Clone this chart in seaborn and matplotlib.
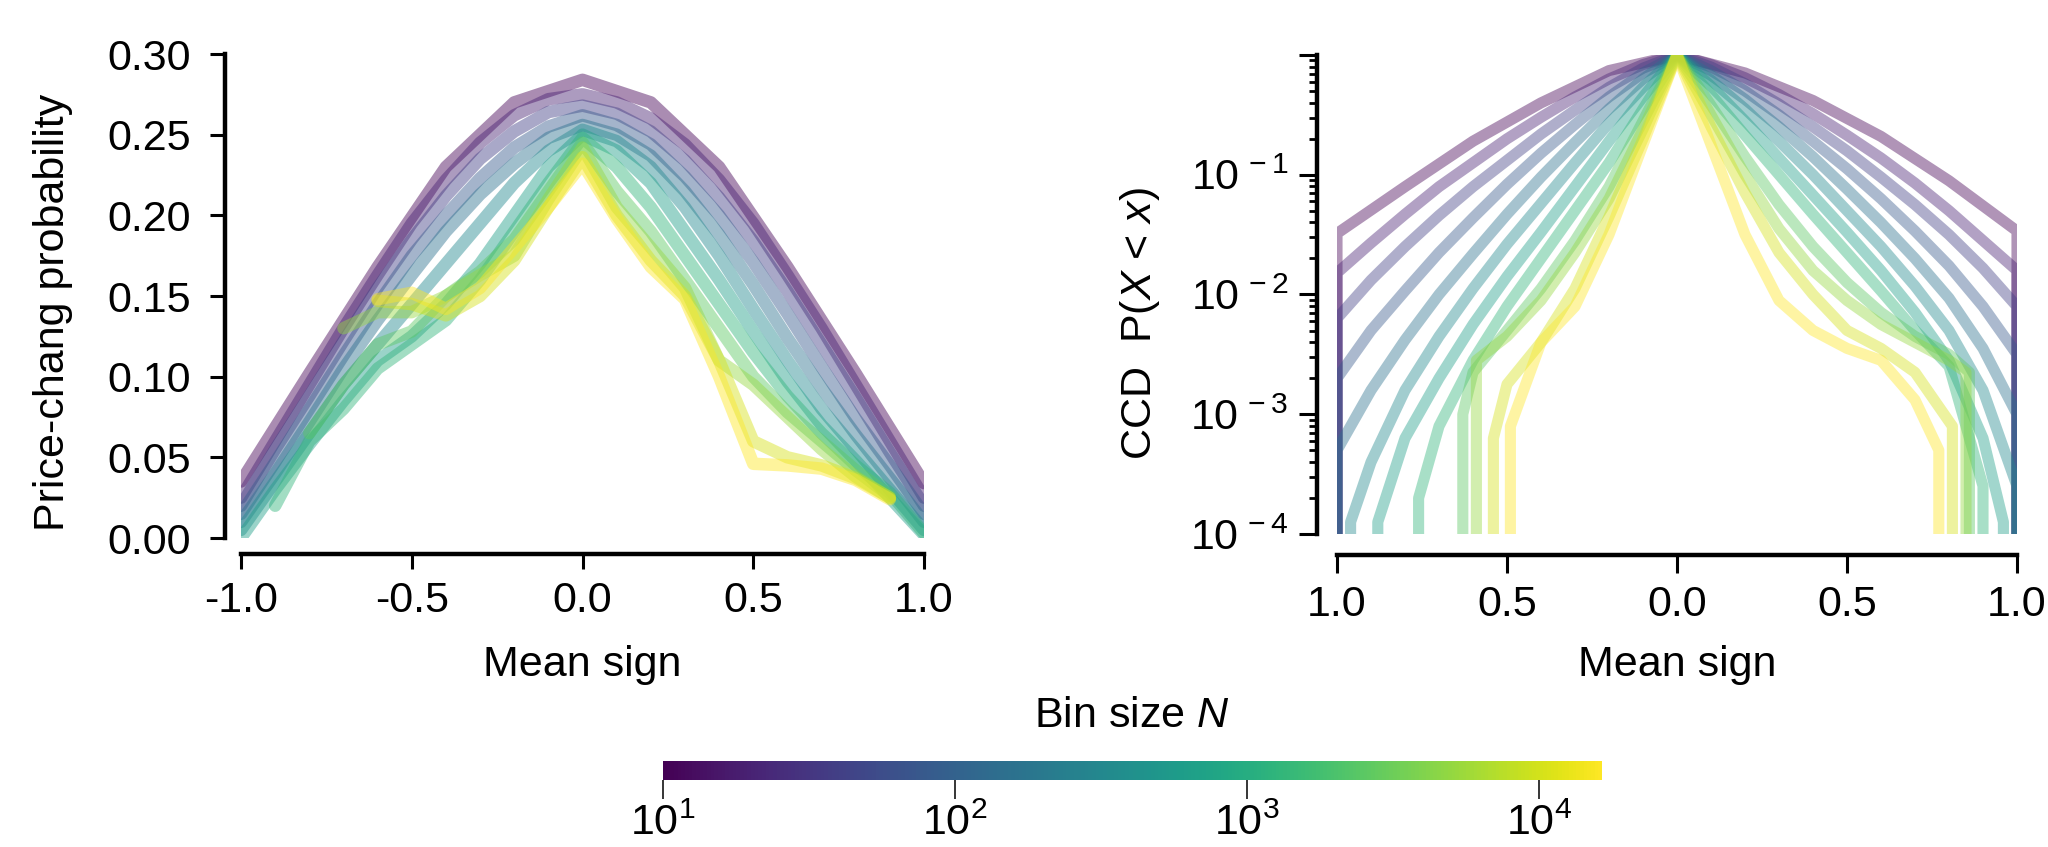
import numpy as np
import pandas as pd
import matplotlib
matplotlib.use("Agg")
import matplotlib.pyplot as plt
import seaborn as sns
from matplotlib.colors import LogNorm
from matplotlib.cm import ScalarMappable
from matplotlib.ticker import FixedLocator, FixedFormatter, NullLocator, LogLocator, NullFormatter

nan = np.nan

# ---------------- data ----------------
BIN_SIZES = [10, 20, 40, 80, 160, 320, 640, 1280, 2560, 5120, 10240, 16384]

# Left panel: price-change probability vs mean sign
PC_GRID = [-1.0, -0.9, -0.8, -0.7, -0.6, -0.5, -0.4, -0.3, -0.2, -0.1, 0.0,
           0.1, 0.2, 0.3, 0.4, 0.5, 0.6, 0.7, 0.8, 0.9, 1.0]
PC_N10 = [0.035, nan, 0.102, nan, 0.168, nan, 0.230, nan, 0.270, nan, 0.284,
          nan, 0.270, nan, 0.230, nan, 0.168, nan, 0.102, nan, 0.034]
PC_N20 = [0.025, 0.060, 0.095, 0.130, 0.163, 0.195, 0.222, 0.245, 0.262, 0.272, 0.275,
          0.270, 0.260, 0.244, 0.222, 0.195, 0.163, 0.130, 0.095, 0.060, 0.025]
PC_N40 = [0.020, 0.055, 0.088, 0.122, 0.155, 0.185, 0.212, 0.235, 0.252, 0.264, 0.268,
          0.263, 0.252, 0.234, 0.211, 0.184, 0.153, 0.120, 0.087, 0.053, 0.020]
PC_N80 = [0.015, 0.047, 0.080, 0.113, 0.145, 0.175, 0.200, 0.223, 0.242, 0.255, 0.262,
          0.256, 0.244, 0.224, 0.200, 0.171, 0.139, 0.106, 0.074, 0.045, 0.015]
PC_N160 = [0.010, 0.040, 0.072, 0.105, 0.135, 0.163, 0.190, 0.213, 0.232, 0.248, 0.256,
           0.250, 0.237, 0.215, 0.188, 0.157, 0.124, 0.093, 0.064, 0.037, 0.010]
PC_N320 = [0.005, 0.035, 0.065, 0.095, 0.120, 0.145, 0.170, 0.195, 0.220, 0.240, 0.253,
           0.246, 0.230, 0.205, 0.175, 0.142, 0.110, 0.080, 0.055, 0.030, 0.005]
PC_N640 = [0.000, 0.030, 0.058, 0.085, 0.110, 0.125, 0.145, 0.170, 0.200, 0.230, 0.250,
           0.240, 0.220, 0.190, 0.160, 0.128, 0.097, 0.070, 0.048, 0.025, 0.002]
PC_N1280 = [nan, 0.020, 0.060, 0.080, 0.105, 0.120, 0.135, 0.160, 0.190, 0.220, 0.248,
            0.230, 0.205, 0.175, 0.145, 0.115, 0.088, 0.065, 0.045, 0.028, 0.003]
PC_N2560 = [nan, nan, 0.065, 0.095, 0.120, 0.128, 0.150, 0.165, 0.185, 0.215, 0.245,
            0.215, 0.190, 0.160, 0.130, 0.100, 0.078, 0.060, 0.042, 0.026, nan]
PC_N5120 = [nan, nan, nan, 0.130, 0.140, 0.140, 0.150, 0.163, 0.175, 0.210, 0.242,
            0.205, 0.180, 0.155, 0.110, 0.095, 0.075, 0.055, 0.038, 0.025, nan]
PC_N10240 = [nan, nan, nan, nan, 0.147, 0.145, 0.138, 0.150, 0.172, 0.205, 0.236,
             0.200, 0.172, 0.150, 0.110, 0.060, 0.050, 0.045, 0.037, 0.025, nan]
PC_N16384 = [nan, nan, nan, nan, 0.148, 0.152, 0.142, 0.155, 0.180, 0.205, 0.232,
             0.198, 0.168, 0.148, 0.100, 0.046, 0.045, 0.043, 0.036, 0.024, nan]
PC_VALUES = [PC_N10, PC_N20, PC_N40, PC_N80, PC_N160, PC_N320, PC_N640,
             PC_N1280, PC_N2560, PC_N5120, PC_N10240, PC_N16384]

# Right panel: CCD (log10 of probability) on |mean sign| grid, each side
CCD_GRID = [0.0, 0.1, 0.2, 0.3, 0.4, 0.5, 0.6, 0.7, 0.8, 0.9, 1.0]
CCD_LEFT_LOG10 = [
    [0, nan, -0.13, nan, -0.40, nan, -0.72, nan, -1.10, nan, -1.49],
    [0, -0.08, -0.20, -0.35, -0.52, -0.70, -0.90, -1.10, -1.33, -1.57, -1.82],
    [0, -0.11, -0.27, -0.46, -0.66, -0.88, -1.10, -1.34, -1.60, -1.88, -2.20],
    [0, -0.15, -0.35, -0.58, -0.82, -1.08, -1.36, -1.65, -1.97, -2.30, -2.70],
    [0, -0.20, -0.45, -0.73, -1.02, -1.33, -1.66, -2.00, -2.38, -2.80, -3.30],
    [0, -0.27, -0.57, -0.90, -1.24, -1.58, -1.95, -2.35, -2.80, -3.40, nan],
    [0, -0.35, -0.72, -1.10, -1.48, -1.85, -2.25, -2.70, -3.20, nan, nan],
    [0, -0.45, -0.90, -1.30, -1.70, -2.10, -2.55, -3.10, nan, nan, nan],
    [0, -0.55, -1.10, -1.55, -1.95, -2.30, -2.65, nan, nan, nan, nan],
    [0, -0.62, -1.20, -1.65, -2.05, -2.35, nan, nan, nan, nan, nan],
    [0, -0.70, -1.35, -1.95, -2.40, -2.75, nan, nan, nan, nan, nan],
    [0, -0.75, -1.50, -2.10, -2.40, nan, nan, nan, nan, nan, nan],
]
CCD_LEFT_END_X = [1.0, 1.0, 1.0, 1.0, 1.0, 0.96, 0.88, 0.76, 0.63, 0.59, 0.54, 0.49]
CCD_LEFT_END_LOG10 = [-1.49, -1.82, -2.20, -2.70, -3.30, -3.90, -3.90, -3.70, -3.00, -2.55, -3.20, -3.10]

CCD_RIGHT_LOG10 = [
    [0, nan, -0.15, nan, -0.38, nan, -0.68, nan, -1.05, nan, -1.47],
    [0, -0.08, -0.19, -0.33, -0.49, -0.67, -0.86, -1.07, -1.30, -1.55, -1.80],
    [0, -0.10, -0.24, -0.41, -0.60, -0.80, -1.02, -1.25, -1.50, -1.78, -2.10],
    [0, -0.13, -0.30, -0.50, -0.72, -0.95, -1.20, -1.47, -1.76, -2.10, -2.50],
    [0, -0.17, -0.37, -0.60, -0.85, -1.12, -1.40, -1.70, -2.03, -2.45, -3.00],
    [0, -0.21, -0.45, -0.72, -1.00, -1.30, -1.60, -1.93, -2.30, -2.80, -3.60],
    [0, -0.26, -0.55, -0.86, -1.17, -1.48, -1.80, -2.15, -2.55, -3.20, nan],
    [0, -0.33, -0.67, -1.00, -1.33, -1.65, -1.97, -2.30, -2.60, nan, nan],
    [0, -0.42, -0.85, -1.25, -1.60, -1.90, -2.15, -2.35, -2.50, nan, nan],
    [0, -0.50, -1.00, -1.45, -1.80, -2.05, -2.25, -2.40, -2.55, nan, nan],
    [0, -0.60, -1.15, -1.65, -2.00, -2.30, -2.45, -2.65, nan, nan, nan],
    [0, -0.75, -1.50, -2.05, -2.30, -2.45, -2.55, -2.88, nan, nan, nan],
]
CCD_RIGHT_END_X = [1.0, 1.0, 1.0, 1.0, 1.0, 1.0, 0.96, 0.90, 0.86, 0.85, 0.81, 0.77]
CCD_RIGHT_END_LOG10 = [-1.47, -1.80, -2.10, -2.50, -3.00, -3.60, -3.90, -3.60, -2.65, -2.65, -3.10, -3.30]
CCD_FLOOR = 1e-6  # curves drop below the axis at their end

XTICKS = [-1.0, -0.5, 0.0, 0.5, 1.0]
PC_XTICKLABELS = ["-1.0", "-0.5", "0.0", "0.5", "1.0"]
CCD_XTICKLABELS = ["1.0", "0.5", "0.0", "0.5", "1.0"]
PC_YTICKS = [0.00, 0.05, 0.10, 0.15, 0.20, 0.25, 0.30]
PC_YTICKLABELS = ["0.00", "0.05", "0.10", "0.15", "0.20", "0.25", "0.30"]
CCD_YTICKS = [1e-4, 1e-3, 1e-2, 1e-1, 1e0]
CCD_YTICKLABELS = [r"$10^{\,-4}$", r"$10^{\,-3}$", r"$10^{\,-2}$", r"$10^{\,-1}$", ""]
CBAR_TICKS = [10, 100, 1000, 10000]
N_MIN, N_MAX = 10, 16384

# ---------------- build long tables ----------------
pc_rows = []
for n, vals in zip(BIN_SIZES, PC_VALUES):
    for x, y in zip(PC_GRID, vals):
        if not np.isnan(y):
            pc_rows.append((n, x, y))
pc_df = pd.DataFrame(pc_rows, columns=["N", "x", "y"])

ccd_rows = []
for i, n in enumerate(BIN_SIZES):
    # left branch, outer end -> centre
    ccd_rows.append((n, -CCD_LEFT_END_X[i], CCD_FLOOR))
    ccd_rows.append((n, -CCD_LEFT_END_X[i], 10 ** CCD_LEFT_END_LOG10[i]))
    for g, v in reversed(list(zip(CCD_GRID, CCD_LEFT_LOG10[i]))):
        if not np.isnan(v) and g < CCD_LEFT_END_X[i]:
            ccd_rows.append((n, -g, 10 ** v))
    # right branch, centre -> outer end
    for g, v in zip(CCD_GRID, CCD_RIGHT_LOG10[i]):
        if not np.isnan(v) and g > 0 and g < CCD_RIGHT_END_X[i]:
            ccd_rows.append((n, g, 10 ** v))
    ccd_rows.append((n, CCD_RIGHT_END_X[i], 10 ** CCD_RIGHT_END_LOG10[i]))
    ccd_rows.append((n, CCD_RIGHT_END_X[i], CCD_FLOOR))
ccd_df = pd.DataFrame(ccd_rows, columns=["N", "x", "y"])

# ---------------- style ----------------
sns.set_theme(style="ticks")
FONT = ["Liberation Sans", "DejaVu Sans"]
plt.rcParams["font.family"] = FONT
plt.rcParams["mathtext.fontset"] = "custom"
plt.rcParams["mathtext.rm"] = "Liberation Sans"
plt.rcParams["mathtext.it"] = "Liberation Sans:italic"
plt.rcParams["mathtext.bf"] = "Liberation Sans:bold"
plt.rcParams["axes.unicode_minus"] = True

FS = 31
W, H = 2048, 847
fig = plt.figure(figsize=(W / 100, H / 100), dpi=100)

def frac(x0, y_top, x1, y_bot):
    return [x0 / W, (H - y_bot) / H, (x1 - x0) / W, (y_bot - y_top) / H]

ax1 = fig.add_axes(frac(241, 54, 924, 538))
ax2 = fig.add_axes(frac(1337, 55, 2017, 534))
cax = fig.add_axes(frac(663, 761, 1602, 780))

norm = LogNorm(vmin=N_MIN, vmax=N_MAX)

sns.lineplot(data=pc_df, x="x", y="y", hue="N", hue_norm=norm, palette="viridis",
             estimator=None, sort=False, legend=False, ax=ax1,
             linewidth=9.0, alpha=0.45, solid_joinstyle="round", solid_capstyle="round")
sns.lineplot(data=ccd_df, x="x", y="y", hue="N", hue_norm=norm, palette="viridis",
             estimator=None, sort=False, legend=False, ax=ax2,
             linewidth=8.0, alpha=0.42, solid_joinstyle="round", solid_capstyle="butt")

SPINE_W = 3.2
for ax, off_l, off_b in [(ax1, 11.5, 11.5), (ax2, 14.4, 15.0)]:
    for s in ["top", "right"]:
        ax.spines[s].set_visible(False)
    ax.spines["left"].set_position(("outward", off_l))
    ax.spines["bottom"].set_position(("outward", off_b))
    ax.spines["left"].set_linewidth(SPINE_W)
    ax.spines["bottom"].set_linewidth(SPINE_W)
    ax.spines["left"].set_color("black")
    ax.spines["bottom"].set_color("black")
    ax.set_facecolor("none")
    ax.grid(False)

# left panel axes
ax1.set_xlim(-1, 1)
ax1.set_ylim(0, 0.30)
ax1.xaxis.set_major_locator(FixedLocator(XTICKS))
ax1.xaxis.set_major_formatter(FixedFormatter(PC_XTICKLABELS))
ax1.yaxis.set_major_locator(FixedLocator(PC_YTICKS))
ax1.yaxis.set_major_formatter(FixedFormatter(PC_YTICKLABELS))
ax1.tick_params(axis="both", which="major", length=10.8, width=2.2, color="black",
                labelsize=FS, labelcolor="black", direction="out")
ax1.tick_params(axis="x", pad=9)
ax1.tick_params(axis="y", pad=14)
ax1.set_xlabel("Mean sign", fontsize=FS, color="black")
ax1.set_ylabel("Price-chang probability", fontsize=FS, color="black")
ax1.xaxis.set_label_coords(0.5, -0.221)
ax1.yaxis.set_label_coords(-0.246, 0.467)

# right panel axes
ax2.set_yscale("log")
ax2.set_xlim(-1, 1)
ax2.set_ylim(1e-4, 1)
ax2.xaxis.set_major_locator(FixedLocator(XTICKS))
ax2.xaxis.set_major_formatter(FixedFormatter(CCD_XTICKLABELS))
ax2.yaxis.set_major_locator(FixedLocator(CCD_YTICKS))
ax2.yaxis.set_major_formatter(FixedFormatter(CCD_YTICKLABELS))
ax2.yaxis.set_minor_locator(LogLocator(base=10, subs=np.arange(2, 10)))
ax2.yaxis.set_minor_formatter(NullFormatter())
ax2.tick_params(axis="both", which="major", length=13, width=2.2, color="black",
                labelsize=FS, labelcolor="black", direction="out")
ax2.tick_params(axis="y", which="minor", length=6, width=2.0, color="black")
ax2.tick_params(axis="x", pad=9)
ax2.tick_params(axis="y", which="major", pad=8)
ax2.set_xlabel("Mean sign", fontsize=FS, color="black")
ax2.set_ylabel(r"CCD  P($X$ < $x$)", fontsize=FS, color="black")
ax2.xaxis.set_label_coords(0.5, -0.232)
ax2.yaxis.set_label_coords(-0.257, 0.44)

# colorbar
sm = ScalarMappable(norm=norm, cmap="viridis")
cbar = fig.colorbar(sm, cax=cax, orientation="horizontal")
cbar.outline.set_visible(False)
cbar.set_ticks(CBAR_TICKS)
cax.xaxis.set_minor_locator(NullLocator())
cax.tick_params(axis="x", which="major", length=13.7, width=1.1, color="black",
                labelsize=FS, labelcolor="black", pad=3, direction="out")
fig.text(1132 / W, 1 - 716 / H, r"Bin size $N$", ha="center", va="center",
         fontsize=FS, color="black")

fig.savefig("out.png", dpi=100, facecolor="white")
